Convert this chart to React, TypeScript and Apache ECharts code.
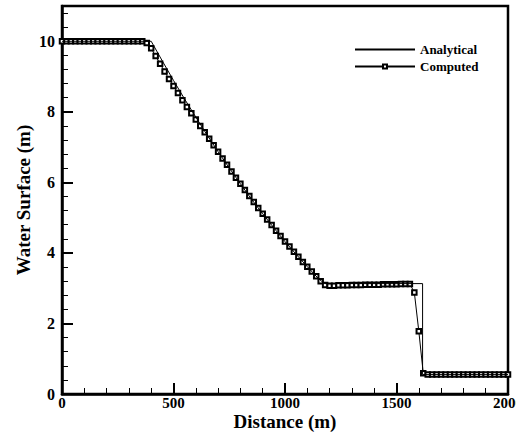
import React, { useEffect, useRef } from 'react';
import * as echarts from 'echarts';

// Computed solution: distance (m) and water surface (m)
const distance = [
  0, 20, 40, 60, 80, 100, 120, 140, 160, 180, 200, 220, 240, 260, 280, 300, 320, 340, 360,
  380, 400, 420, 440, 460, 480, 500, 520, 540, 560, 580, 600, 620, 640, 660, 680, 700, 720, 740, 760, 780,
  800, 820, 840, 860, 880, 900, 920, 940, 960, 980, 1000, 1020, 1040, 1060, 1080, 1100, 1120, 1140, 1160, 1180,
  1200, 1220, 1240, 1260, 1280, 1300, 1320, 1340, 1360, 1380, 1400, 1420, 1440, 1460, 1480, 1500, 1520, 1540, 1560,
  1580, 1600, 1620,
  1640, 1660, 1680, 1700, 1720, 1740, 1760, 1780, 1800, 1820, 1840, 1860, 1880, 1900, 1920, 1940, 1960, 1980, 2000,
];
const computed = [
  10, 10, 10, 10, 10, 10, 10, 10, 10, 10, 10, 10, 10, 10, 10, 10, 10, 10, 10,
  9.95, 9.8, 9.58, 9.36, 9.14, 8.93, 8.73, 8.53, 8.33, 8.14, 7.96, 7.78, 7.6, 7.42, 7.24, 7.05, 6.87, 6.68, 6.5, 6.31, 6.13,
  5.96, 5.78, 5.61, 5.44, 5.27, 5.11, 4.95, 4.79, 4.63, 4.48, 4.32, 4.18, 4.03, 3.89, 3.74, 3.61, 3.47, 3.34, 3.2, 3.09,
  3.07, 3.07, 3.08, 3.08, 3.08, 3.09, 3.09, 3.09, 3.1, 3.1, 3.1, 3.1, 3.11, 3.11, 3.11, 3.11, 3.12, 3.12, 3.12,
  2.88, 1.78, 0.59,
  0.55, 0.55, 0.55, 0.55, 0.55, 0.55, 0.55, 0.55, 0.55, 0.55, 0.55, 0.55, 0.55, 0.55, 0.55, 0.55, 0.55, 0.55, 0.55,
];

// Analytical solution
const analyticalX = [0, 400, 450, 500, 550, 600, 650, 700, 750, 800, 850, 900, 950, 1000, 1050, 1100, 1150, 1178, 1617, 1617, 2000];
const analyticalY = [10, 10, 9.44, 8.89, 8.36, 7.85, 7.35, 6.87, 6.41, 5.96, 5.52, 5.11, 4.71, 4.32, 3.96, 3.61, 3.27, 3.13, 3.13, 0.55, 0.55];

const seriesNames = ['Analytical', 'Computed'];

export default function App() {
  const ref = useRef<HTMLDivElement>(null);
  useEffect(() => {
    document.body.style.margin = '0';
    const chart = echarts.init(ref.current!, null, { renderer: 'svg' });
    const font = "'Liberation Serif', 'Times New Roman', serif";
    const axisCommon = {
      type: 'value' as const,
      nameLocation: 'middle' as const,
      nameMoveOverlap: false,
      axisLine: { lineStyle: { color: '#000', width: 2.5 } },
      axisTick: { inside: true, length: 11, lineStyle: { color: '#000', width: 2 } },
      minorTick: { show: true, splitNumber: 5, length: 6, lineStyle: { color: '#000', width: 1 } },
      splitLine: { show: false },
    };
    const labelStyle = { fontFamily: font, fontWeight: 'bold', fontSize: 16, color: '#000', formatter: (v: number) => String(v) };
    chart.setOption({
      animation: false,
      backgroundColor: '#fff',
      grid: {
        left: 62, right: 8, top: 6, bottom: 42,
        show: true, borderColor: '#000', borderWidth: 2.5,
        containLabel: false, outerBoundsMode: 'none',
      },
      legend: {
        orient: 'vertical',
        left: 349,
        top: 38,
        itemWidth: 60,
        itemHeight: 5,
        itemGap: 4,
        data: [
          { name: seriesNames[0], itemStyle: { opacity: 0 } },
          { name: seriesNames[1] },
        ],
        textStyle: { fontFamily: font, fontWeight: 'bold', fontSize: 13, color: '#000' },
      },
      xAxis: {
        ...axisCommon,
        min: 0,
        max: 2000,
        interval: 500,
        name: 'Distance (m)',
        nameGap: 19,
        nameTextStyle: { fontFamily: font, fontWeight: 'bold', fontSize: 19, lineHeight: 16, color: '#000', verticalAlign: 'top' },
        axisLabel: { ...labelStyle, fontSize: 15, margin: 3, lineHeight: 12, hideOverlap: false },
      },
      yAxis: {
        ...axisCommon,
        min: 0,
        max: 11,
        interval: 2,
        name: 'Water Surface (m)',
        nameGap: 29,
        nameTextStyle: { fontFamily: font, fontWeight: 'bold', fontSize: 19, color: '#000' },
        axisLabel: { ...labelStyle, margin: 7, showMaxLabel: false },
      },
      series: [
        {
          name: seriesNames[0],
          type: 'line',
          data: analyticalX.map((x, i) => [x, analyticalY[i]]),
          symbol: 'none',
          lineStyle: { color: '#000', width: 1 },
          itemStyle: { color: '#000' },
          z: 3,
        },
        {
          name: seriesNames[1],
          type: 'line',
          data: distance.map((x, i) => [x, computed[i]]),
          symbol: 'emptyRect',
          symbolSize: 4.5,
          showAllSymbol: true,
          lineStyle: { color: '#000', width: 1 },
          itemStyle: { color: '#000', borderWidth: 1 },
          z: 2,
        },
      ],
    });
    return () => chart.dispose();
  }, []);
  return <div ref={ref} style={{ position: 'fixed', left: 0, top: 0, width: 516, height: 436 }} />;
}
